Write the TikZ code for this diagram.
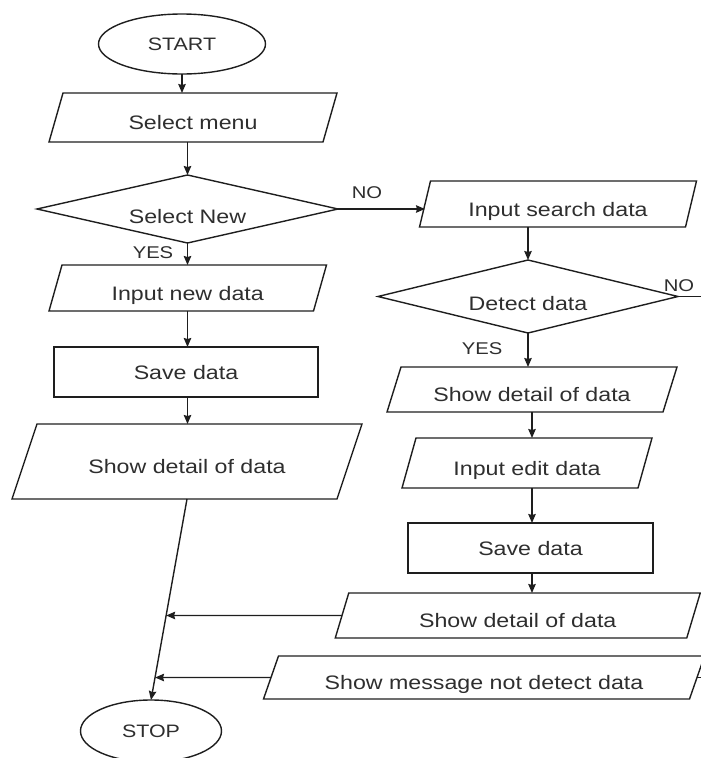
\documentclass[tikz,border=0pt]{standalone}
\usepackage{fontspec}
\setmainfont{Liberation Sans}[FakeStretch=1.19]
\usetikzlibrary{shapes.geometric,arrows.meta,calc}
\definecolor{ink}{HTML}{1E1E1E}
\definecolor{txt}{HTML}{2E2E2E}
\newcommand\drawio[2]{\draw[shp] ([xshift=#2pt]#1.north west) -- ([xshift=#2pt]#1.north east) -- ([xshift=-#2pt]#1.south east) -- ([xshift=-#2pt]#1.south west) -- cycle;}
\begin{document}
\begin{tikzpicture}[x=1pt,y=-1pt,
  every node/.style={inner sep=0pt, outer sep=0pt, text=txt},
  shp/.style={draw=ink, line width=1.4pt, line join=miter},
  arr/.style={draw=ink, line width=1.4pt, -{Stealth[length=9pt,width=7.5pt,inset=1pt]}},
  mainfont/.style={font=\fontsize{19.5}{22}\selectfont},
  drop/.style={text height=#1, text depth=0pt},
  io/.style={rectangle, mainfont, drop=24pt},
  proc/.style={rectangle, shp, mainfont, drop=14pt},
  dia/.style={rectangle, mainfont, drop=28pt},
  term/.style={ellipse, shp, font=\fontsize{18}{20}\selectfont, drop=13pt},
  lab/.style={font=\fontsize{17}{20}\selectfont}
]
\useasboundingbox (0,0) rectangle (701,758);
\clip (0,0) rectangle (701,758);

% left column
\node[term, minimum width=167, minimum height=60] (start) at (182,44) {START};
\node[io, minimum width=274, minimum height=49] (menu) at (193,117.5) {Select menu};
\drawio{menu}{7}
\node[dia, minimum width=301, minimum height=68] (new) at (187.5,209) {Select New};
\draw[shp] (new.north) -- (new.east) -- (new.south) -- (new.west) -- cycle;
\node[lab] (yes1) at (153,253) {YES};
\node[io, minimum width=264.5, minimum height=46] (innew) at (187.75,288) {Input new data};
\drawio{innew}{6.5}
\node[proc, minimum width=264, minimum height=50] (save1) at (186,372) {Save data};
\node[io, minimum width=325, minimum height=75] (show1) at (187,461.5) {Show detail of data};
\drawio{show1}{12.5}
\node[term, minimum width=141, minimum height=62] (stop) at (151,731) {STOP};

% right column
\node[lab] (no1) at (367,193) {NO};
\node[io, minimum width=266, minimum height=46] (search) at (558,204) {Input search data};
\drawio{search}{5.5}
\node[dia, minimum width=300, minimum height=73] (detect) at (528,296.5) {Detect data};
\draw[shp] (detect.north) -- (detect.east) -- (detect.south) -- (detect.west) -- cycle;
\node[lab] (no2) at (679,286) {NO};
\node[lab] (yes2) at (482,349) {YES};
\node[io, minimum width=276, minimum height=45] (show2) at (532,389.5) {Show detail of data};
\drawio{show2}{7}
\node[io, minimum width=236, minimum height=50] (edit) at (527,463) {Input edit data};
\drawio{edit}{7}
\node[proc, minimum width=245, minimum height=50] (save2) at (530.5,548) {Save data};
\node[io, minimum width=351.5, minimum height=45] (show3) at (517.75,615.5) {Show detail of data};
\drawio{show3}{6.75}
\node[io, minimum width=426, minimum height=43] (msg) at (484,677.5) {Show message not detect data};
\drawio{msg}{7.5}

% connectors
\draw[arr] (start.south) -- (start.south |- menu.north);
\draw[arr] (new.north |- menu.south) -- (new.north);
\draw[arr] (new.south) -- (new.south |- innew.north);
\draw[arr] (new.south |- innew.south) -- (new.south |- save1.north);
\draw[arr] (new.south |- save1.south) -- (new.south |- show1.north);
\draw[arr] (show1.south) -- (stop.north);
\draw[arr] (new.east) -- (new.east -| search.west);
\draw[arr] (detect.north |- search.south) -- (detect.north);
\draw[arr] (detect.south) -- (detect.south |- show2.north);
\draw[arr] (show2.south) -- (show2.south |- edit.north);
\draw[arr] (show2.south |- edit.south) -- (show2.south |- save2.north);
\draw[arr] (show2.south |- save2.south) -- (show2.south |- show3.north);
\draw[arr] (show3.west) -- (intersection of show1.south--stop.north and show3.west--show3.center);
\draw[arr] (msg.west) -- (intersection of show1.south--stop.north and msg.west--msg.center);
\draw[shp] (detect.east) -- ++(40,0) |- (msg.east);
\end{tikzpicture}
\end{document}
